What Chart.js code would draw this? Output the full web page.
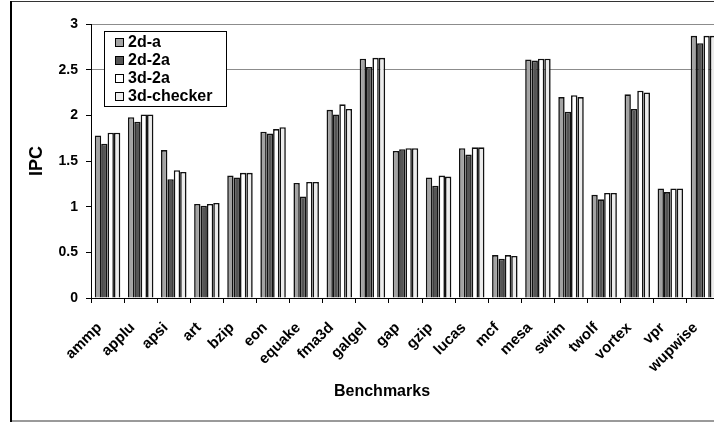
<!DOCTYPE html>
<html>
<head>
<meta charset="utf-8">
<script src="https://cdn.jsdelivr.net/npm/chart.js@4/dist/chart.umd.min.js"></script>
<style>
  html, body { margin: 0; padding: 0; background: #fff; overflow: hidden; }
  #wrap { width: 714px; height: 423px; overflow: hidden; position: relative; }
  #c { display: block; }
</style>
</head>
<body>
<div id="wrap"><canvas id="c" width="760" height="423"></canvas></div>
<script>
// Benchmarks and per-configuration IPC
const benchmarks = ['ammp', 'applu', 'apsi', 'art', 'bzip', 'eon', 'equake', 'fma3d', 'galgel', 'gap',
                    'gzip', 'lucas', 'mcf', 'mesa', 'swim', 'twolf', 'vortex', 'vpr', 'wupwise'];
const ipc2dA      = [1.78, 1.98, 1.62, 1.03, 1.34, 1.82, 1.26, 2.06, 2.62, 1.61, 1.32, 1.64, 0.47, 2.61, 2.20, 1.13, 2.23, 1.20, 2.87];
const ipc2d2A     = [1.69, 1.93, 1.30, 1.01, 1.32, 1.80, 1.11, 2.01, 2.53, 1.63, 1.23, 1.57, 0.43, 2.60, 2.04, 1.08, 2.07, 1.16, 2.79];
const ipc3d2A     = [1.81, 2.01, 1.40, 1.03, 1.37, 1.85, 1.27, 2.12, 2.63, 1.64, 1.34, 1.65, 0.47, 2.62, 2.22, 1.15, 2.27, 1.20, 2.87];
const ipc3dChecker= [1.81, 2.01, 1.38, 1.04, 1.37, 1.87, 1.27, 2.07, 2.63, 1.64, 1.33, 1.65, 0.46, 2.62, 2.20, 1.15, 2.25, 1.20, 2.87];
const seriesNames = ['2d-a', '2d-2a', '3d-2a', '3d-checker'];
const yTicks = [0, 0.5, 1, 1.5, 2, 2.5, 3];

const FONT = '"Liberation Sans", Arial, sans-serif';
const fills = ['#a3a3a3', '#555555', '#ffffff', '#ececec'];

// Outer frame and the x-axis caption, centred on the frame
const framePlugin = {
  id: 'frame',
  afterDraw(chart) {
    const ctx = chart.ctx;
    ctx.save();
    ctx.strokeStyle = '#333';
    ctx.lineWidth = 1;
    ctx.beginPath(); ctx.moveTo(10, 1.5); ctx.lineTo(760, 1.5); ctx.stroke();
    ctx.strokeStyle = '#9a9a9a';
    ctx.lineWidth = 2;
    ctx.beginPath(); ctx.moveTo(10, 421); ctx.lineTo(760, 421); ctx.stroke();
    ctx.strokeStyle = '#000';
    ctx.lineWidth = 2;
    ctx.beginPath(); ctx.moveTo(11, 1); ctx.lineTo(11, 422); ctx.stroke();

    ctx.fillStyle = '#000';
    ctx.font = 'bold 16px ' + FONT;
    ctx.textAlign = 'center';
    ctx.textBaseline = 'middle';
    ctx.fillText('Benchmarks', 382, 392);
    ctx.restore();
  }
};

// Boxed legend in the upper-left corner of the plot
const boxLegend = {
  id: 'boxLegend',
  afterDatasetsDraw(chart) {
    const ctx = chart.ctx;
    const x0 = chart.chartArea.left + 13, y0 = chart.chartArea.top + 7;
    const w = 122, h = 75, row = 18;
    ctx.save();
    ctx.fillStyle = '#fff';
    ctx.fillRect(x0, y0, w, h);
    ctx.strokeStyle = '#000';
    ctx.lineWidth = 1;
    ctx.strokeRect(x0 + 0.5, y0 + 0.5, w, h);
    ctx.font = 'bold 16px ' + FONT;
    ctx.textBaseline = 'middle';
    chart.data.datasets.forEach((ds, i) => {
      const cy = y0 + 11 + i * row;
      ctx.fillStyle = ds.backgroundColor;
      ctx.fillRect(x0 + 11, cy - 4, 8, 8);
      ctx.strokeStyle = '#000';
      ctx.lineWidth = 1;
      ctx.strokeRect(x0 + 11.5, cy - 3.5, 8, 8);
      ctx.fillStyle = '#000';
      ctx.fillText(ds.label, x0 + 24, cy + 1);
    });
    ctx.restore();
  }
};

const seriesData = [ipc2dA, ipc2d2A, ipc3d2A, ipc3dChecker];

new Chart(document.getElementById('c'), {
  type: 'bar',
  data: {
    labels: benchmarks,
    datasets: seriesNames.map((name, i) => ({
      label: name,
      data: seriesData[i],
      backgroundColor: fills[i],
      borderColor: '#111',
      borderWidth: 1.6,
      categoryPercentage: 0.77,
      barPercentage: 1.0
    }))
  },
  options: {
    responsive: false,
    animation: false,
    layout: { padding: { left: 26, right: 40, top: 24, bottom: 0 } },
    plugins: { legend: { display: false }, tooltip: { enabled: false } },
    scales: {
      x: {
        grid: { display: true, drawOnChartArea: false, drawTicks: true, tickLength: 5, color: '#000', offset: true },
        border: { color: '#000', width: 1 },
        ticks: { autoSkip: false, maxRotation: 45, minRotation: 45, padding: 16, labelOffset: -8, color: '#000',
                 font: { family: FONT, size: 15, weight: 'bold' } },
        afterFit(scale) { scale.height = 125; }
      },
      y: {
        min: 0, max: 3,
        afterBuildTicks(scale) { scale.ticks = yTicks.map(v => ({ value: v })); },
        ticks: { padding: 8, color: '#000', font: { family: FONT, size: 14, weight: 'bold' },
                 callback: v => String(v) },
        grid: {
          color: c => (c.tick && c.tick.value >= 2.5) ? '#8c8c8c' : 'rgba(0,0,0,0)',
          tickColor: '#000', tickLength: 5, drawTicks: true, lineWidth: 1
        },
        border: { color: '#000', width: 1 },
        title: { display: true, text: 'IPC', color: '#000', padding: 0,
                 font: { family: FONT, size: 18, weight: 'bold' } },
        afterFit(scale) { scale.width = 65; }
      }
    }
  },
  plugins: [framePlugin, boxLegend]
});
</script>
</body>
</html>
